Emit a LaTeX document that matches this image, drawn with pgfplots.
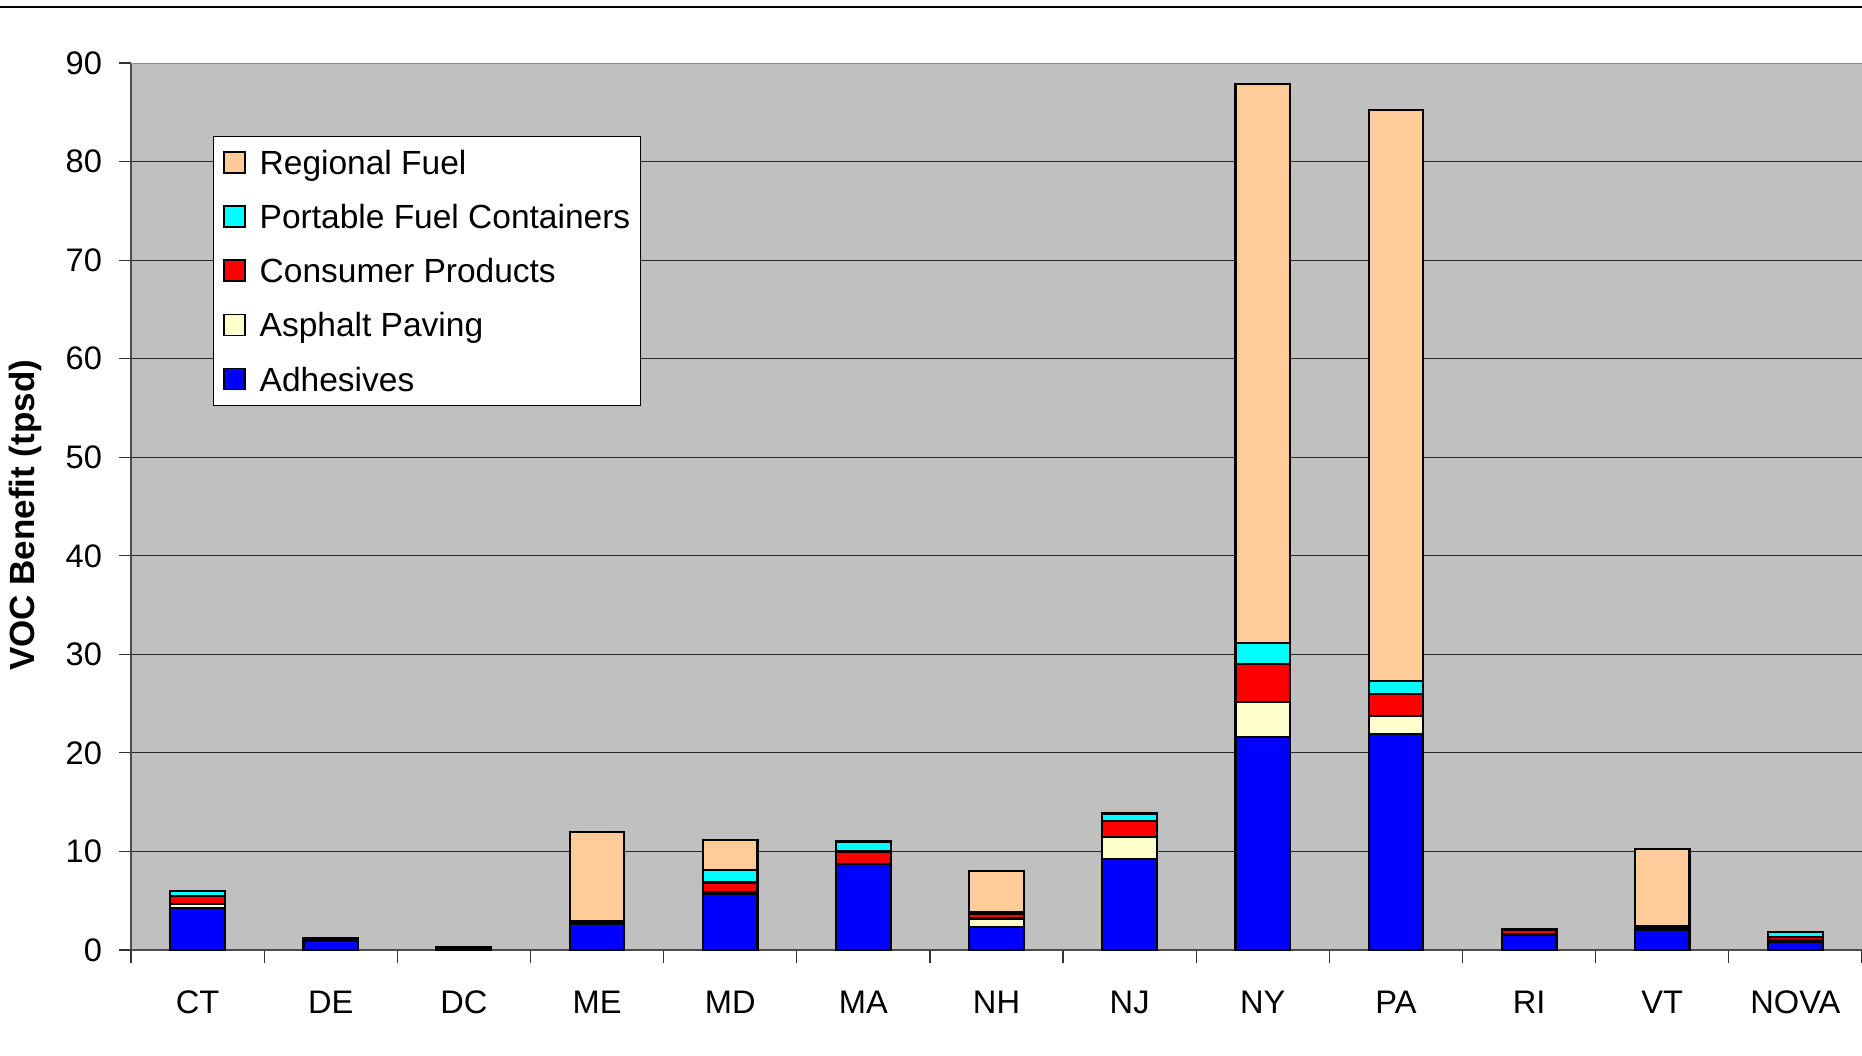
\documentclass[border=0pt]{standalone}
\usepackage{fontspec}
\setmainfont{Liberation Sans}
\usepackage{pgfplots}
\pgfplotsset{compat=1.18}
\definecolor{plotgray}{HTML}{C0C0C0}
\definecolor{rf}{HTML}{FFCC99}
\definecolor{pfc}{HTML}{00FFFF}
\definecolor{cp}{HTML}{FF0000}
\definecolor{ap}{HTML}{FFFFCC}
\definecolor{adh}{HTML}{0000FF}
\begin{document}
\begin{tikzpicture}
\useasboundingbox (0,0) rectangle (931pt,527.5pt);
\draw[line width=1.2pt] (0,524pt) -- (931pt,524pt);
\begin{axis}[
  at={(65.5pt,52.5pt)}, anchor=south west,
  width=865.5pt, height=443.5pt, scale only axis,
  xmin=-0.5, xmax=12.5, ymin=0, ymax=90,
  ybar stacked, bar width=0.41,
  axis background/.style={fill=plotgray},
  axis x line*=bottom, axis y line*=left,
  axis line style={draw=black!70, line width=0.8pt},
  ytick={0,10,...,90},
  ymajorgrids, major grid style={black!85, line width=0.5pt},
  xtick={0,...,12},
  xticklabels={CT,DE,DC,ME,MD,MA,NH,NJ,NY,PA,RI,VT,NOVA},
  minor xtick={-0.5,0.5,...,12.5},
  major x tick style={draw=none},
  minor x tick style={draw=black!80, line width=0.6pt},
  major y tick style={draw=black!80, line width=0.6pt},
  tick align=outside, minor tick length=6.5pt, major tick length=6pt,
  /pgf/number format/assume math mode=true,
  tick label style={font=\fontsize{16.3}{19}\selectfont},
  xticklabel style={yshift=-11pt},
  yticklabel style={xshift=-5pt},
  ylabel={VOC Benefit (tpsd)},
  ylabel style={at={(axis description cs:-0.0607,0.49)}, anchor=center, font=\fontsize{17.5}{21}\selectfont\bfseries},
  reverse legend,
  legend cell align=left,
  legend image code/.code={\draw[#1,line width=0.8pt] (0pt,-5.25pt) rectangle (10.5pt,5.25pt);},
  legend style={at={(0.0471,0.918)}, anchor=north west, draw=black, line width=0.6pt, fill=white,
    font=\fontsize{16.75}{20}\selectfont, inner sep=5pt, row sep=11.1pt, column sep=7pt,
    nodes={inner sep=0pt, text height=14pt, text depth=2pt}},
]
\addplot[fill=adh, draw=black, line width=1.1pt] coordinates {(0,4.3) (1,0.9) (2,0.1) (3,2.6) (4,5.65) (5,8.75) (6,2.35) (7,9.25) (8,21.6) (9,21.9) (10,1.55) (11,2.05) (12,0.85)};
\addlegendentry{Adhesives}
\addplot[fill=ap, draw=black, line width=1.1pt] coordinates {(0,0.4) (1,0.05) (2,0) (3,0.05) (4,0.25) (5,0) (6,0.85) (7,2.2) (8,3.6) (9,1.85) (10,0.05) (11,0.05) (12,0.15)};
\addlegendentry{Asphalt Paving}
\addplot[fill=cp, draw=black, line width=1.1pt] coordinates {(0,0.75) (1,0.2) (2,0.15) (3,0.25) (4,0.95) (5,1.25) (6,0.45) (7,1.65) (8,3.8) (9,2.2) (10,0.4) (11,0.25) (12,0.35)};
\addlegendentry{Consumer Products}
\addplot[fill=pfc, draw=black, line width=1.1pt] coordinates {(0,0.5) (1,0.1) (2,0.05) (3,0.05) (4,1.25) (5,1.0) (6,0.2) (7,0.75) (8,2.15) (9,1.35) (10,0.15) (11,0.05) (12,0.5)};
\addlegendentry{Portable Fuel Containers}
\addplot[fill=rf, draw=black, line width=1.1pt] coordinates {(0,0) (1,0) (2,0) (3,9.0) (4,3.1) (5,0) (6,4.2) (7,0) (8,56.7) (9,57.9) (10,0) (11,7.85) (12,0)};
\addlegendentry{Regional Fuel}
\draw[black!45, line width=0.8pt] (rel axis cs:0,1) -- (rel axis cs:1,1);
\end{axis}
\end{tikzpicture}
\end{document}
